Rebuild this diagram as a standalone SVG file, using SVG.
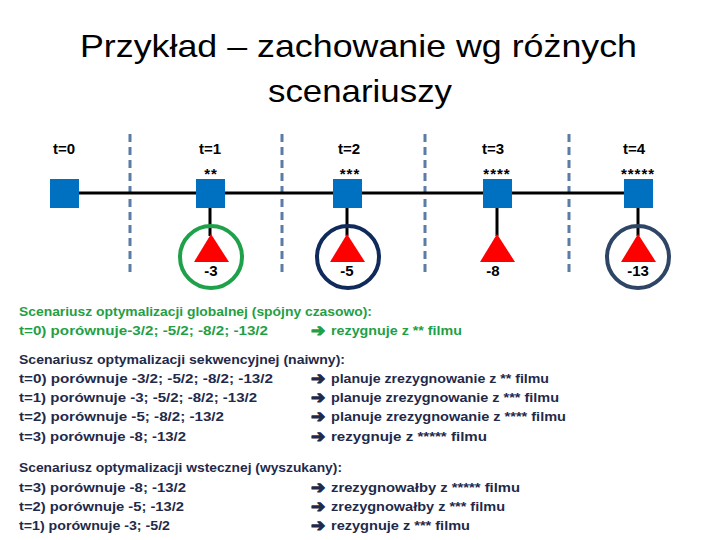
<svg xmlns="http://www.w3.org/2000/svg" width="720" height="540" viewBox="0 0 720 540">
<style>
.title{font-family:"Liberation Sans",Arial,sans-serif;font-size:32px;fill:#000}
.lbl{font-family:"Liberation Sans",Arial,sans-serif;font-weight:bold;font-size:15px;fill:#000;text-anchor:middle}
.star{font-family:"Liberation Sans",Arial,sans-serif;font-weight:bold;font-size:15px;fill:#000;text-anchor:middle;letter-spacing:1px}
.g{font-family:"Liberation Sans",Arial,sans-serif;font-weight:bold;font-size:13px;fill:#1FA046}
.n{font-family:"Liberation Sans",Arial,sans-serif;font-weight:bold;font-size:13px;fill:#1F2A4A}
.arr{font-family:"DejaVu Sans",sans-serif;font-size:17px;stroke-width:1.2;stroke-linejoin:round}
.g.arr{stroke:#1FA046}
.n.arr{stroke:#1F2A4A}
.sq{fill:#0070C0}
.tri{fill:#FF0000}
.dash{stroke:#5B7CA6;stroke-width:3;stroke-dasharray:8 5;fill:none}
.line{stroke:#000;stroke-width:3;fill:none}
</style>
<rect width="720" height="540" fill="#fff"/>
<text class="title" x="80" y="57" textLength="557" lengthAdjust="spacingAndGlyphs">Przykład – zachowanie wg różnych</text>
<text class="title" x="268" y="102" textLength="184" lengthAdjust="spacingAndGlyphs">scenariuszy</text>
<g id="separators">
<line class="dash" x1="130" y1="134" x2="130" y2="276"/>
<line class="dash" x1="282" y1="134" x2="282" y2="276"/>
<line class="dash" x1="425" y1="134" x2="425" y2="276"/>
<line class="dash" x1="569" y1="134" x2="569" y2="276"/>
</g>
<g id="connectors">
<line class="line" x1="64" y1="193" x2="638" y2="193"/>
<line class="line" x1="210" y1="208" x2="210" y2="236"/>
<line class="line" x1="347" y1="208" x2="347" y2="236"/>
<line class="line" x1="497" y1="208" x2="497" y2="236"/>
<line class="line" x1="638" y1="208" x2="638" y2="236"/>
</g>
<g id="node-t0">
<text class="lbl" x="64" y="154">t=0</text>
<rect class="sq" x="50" y="179" width="29" height="29"/>
</g>
<g id="node-t1">
<text class="lbl" x="210" y="154">t=1</text>
<text class="star" x="211" y="179">**</text>
<rect class="sq" x="196" y="179" width="29" height="29"/>
</g>
<g id="node-t2">
<text class="lbl" x="349" y="154">t=2</text>
<text class="star" x="350" y="179">***</text>
<rect class="sq" x="333" y="179" width="29" height="29"/>
</g>
<g id="node-t3">
<text class="lbl" x="493" y="154">t=3</text>
<text class="star" x="497" y="179">****</text>
<rect class="sq" x="483" y="179" width="29" height="29"/>
</g>
<g id="node-t4">
<text class="lbl" x="634" y="154">t=4</text>
<text class="star" x="638" y="179">*****</text>
<rect class="sq" x="624" y="179" width="29" height="29"/>
</g>
<g id="leaf-t1">
<circle cx="211" cy="257" r="31" fill="none" stroke="#1FA14A" stroke-width="4"/>
<polygon class="tri" points="211,234 194,262 229,262"/>
<text class="lbl" x="211" y="276">-3</text>
</g>
<g id="leaf-t2">
<circle cx="348" cy="257" r="31" fill="none" stroke="#102A5C" stroke-width="4"/>
<polygon class="tri" points="347,234 330,262 365,262"/>
<text class="lbl" x="347" y="276">-5</text>
</g>
<g id="leaf-t3">
<polygon class="tri" points="497,234 480,262 515,262"/>
<text class="lbl" x="493" y="276">-8</text>
</g>
<g id="leaf-t4">
<circle cx="638" cy="257" r="31" fill="none" stroke="#2E4566" stroke-width="4"/>
<polygon class="tri" points="638,234 621,262 656,262"/>
<text class="lbl" x="638" y="276">-13</text>
</g>
<g id="scenario-global">
<text class="g" x="19" y="316" textLength="353" lengthAdjust="spacingAndGlyphs">Scenariusz optymalizacji globalnej (spójny czasowo):</text>
<text class="g" x="19" y="335" textLength="249" lengthAdjust="spacingAndGlyphs">t=0) porównuje-3/2; -5/2; -8/2; -13/2</text>
<text class="g arr" x="311" y="336">➔</text>
<text class="g" x="331" y="335" textLength="131" lengthAdjust="spacingAndGlyphs">rezygnuje z ** filmu</text>
</g>
<g id="scenario-sequential">
<text class="n" x="19" y="364" textLength="326" lengthAdjust="spacingAndGlyphs">Scenariusz optymalizacji sekwencyjnej (naiwny):</text>
<text class="n" x="19" y="383" textLength="254" lengthAdjust="spacingAndGlyphs">t=0) porównuje -3/2; -5/2; -8/2; -13/2</text>
<text class="n" x="19" y="402" textLength="238" lengthAdjust="spacingAndGlyphs">t=1) porównuje -3; -5/2; -8/2; -13/2</text>
<text class="n" x="19" y="421" textLength="205" lengthAdjust="spacingAndGlyphs">t=2) porównuje -5; -8/2; -13/2</text>
<text class="n" x="19" y="441" textLength="167" lengthAdjust="spacingAndGlyphs">t=3) porównuje -8; -13/2</text>
<text class="n arr" x="311" y="384">➔</text>
<text class="n arr" x="311" y="403">➔</text>
<text class="n arr" x="311" y="422">➔</text>
<text class="n arr" x="311" y="442">➔</text>
<text class="n" x="331" y="383" textLength="218" lengthAdjust="spacingAndGlyphs">planuje zrezygnowanie z ** filmu</text>
<text class="n" x="331" y="402" textLength="228" lengthAdjust="spacingAndGlyphs">planuje zrezygnowanie z *** filmu</text>
<text class="n" x="331" y="421" textLength="235" lengthAdjust="spacingAndGlyphs">planuje zrezygnowanie z **** filmu</text>
<text class="n" x="331" y="441" textLength="156" lengthAdjust="spacingAndGlyphs">rezygnuje z ***** filmu</text>
</g>
<g id="scenario-backward">
<text class="n" x="19" y="472" textLength="323" lengthAdjust="spacingAndGlyphs">Scenariusz optymalizacji wstecznej (wyszukany):</text>
<text class="n" x="19" y="492" textLength="167" lengthAdjust="spacingAndGlyphs">t=3) porównuje -8; -13/2</text>
<text class="n" x="19" y="511" textLength="165" lengthAdjust="spacingAndGlyphs">t=2) porównuje -5; -13/2</text>
<text class="n" x="19" y="530" textLength="151" lengthAdjust="spacingAndGlyphs">t=1) porównuje -3; -5/2</text>
<text class="n arr" x="311" y="493">➔</text>
<text class="n arr" x="311" y="512">➔</text>
<text class="n arr" x="311" y="531">➔</text>
<text class="n" x="331" y="492" textLength="189" lengthAdjust="spacingAndGlyphs">zrezygnowałby z ***** filmu</text>
<text class="n" x="331" y="511" textLength="174" lengthAdjust="spacingAndGlyphs">zrezygnowałby z *** filmu</text>
<text class="n" x="331" y="530" textLength="139" lengthAdjust="spacingAndGlyphs">rezygnuje z *** filmu</text>
</g>
</svg>
